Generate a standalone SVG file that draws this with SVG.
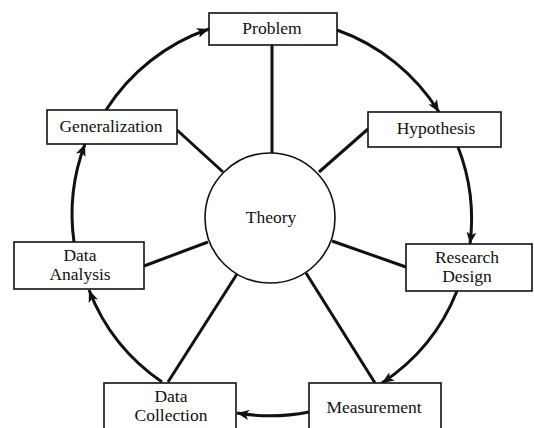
<svg xmlns="http://www.w3.org/2000/svg" width="534" height="428" viewBox="0 0 534 428">
<style>
.box{fill:#fff;stroke:#111;stroke-width:1.6}
.lbl{font-family:"Liberation Serif","Times New Roman",serif;font-size:17.5px;fill:#111;text-anchor:middle}
.spoke{stroke:#111;stroke-width:3;fill:none}
.arc{stroke:#111;stroke-width:3;fill:none;marker-end:url(#ah)}
</style>
<defs>
<marker id="ah" markerUnits="userSpaceOnUse" markerWidth="14" markerHeight="10" refX="12" refY="5" orient="auto">
<path d="M0,0 L12,5 L0,10 L3,5 Z" fill="#111"/>
</marker>
</defs>
<rect width="534" height="428" fill="#fff"/>
<g id="connectors">
<line class="spoke" x1="272" y1="45" x2="272" y2="153"/>
<line class="spoke" x1="368" y1="129" x2="319" y2="172"/>
<line class="spoke" x1="177" y1="130" x2="223" y2="172"/>
<line class="spoke" x1="144" y1="266" x2="208" y2="242"/>
<line class="spoke" x1="168" y1="382" x2="237" y2="274"/>
<line class="spoke" x1="406" y1="267" x2="332" y2="241"/>
<line class="spoke" x1="375" y1="383" x2="306" y2="273"/>
<path class="arc" d="M337,30 A198,198 0 0 1 439,112"/>
<path class="arc" d="M458,147 A198,198 0 0 1 470,244"/>
<path class="arc" d="M457,291 A198,198 0 0 1 382,383"/>
<path class="arc" d="M309,412 A198,198 0 0 1 237,413"/>
<path class="arc" d="M162,382 A198,198 0 0 1 89,290"/>
<path class="arc" d="M74,242 A198,198 0 0 1 85,144"/>
<path class="arc" d="M106,110 A198,198 0 0 1 209,29"/>
</g>
<g id="theory">
<circle cx="270" cy="218" r="65" fill="#fff" stroke="#111" stroke-width="1.6"/>
<text class="lbl" x="271" y="223">Theory</text>
</g>
<g id="problem">
<rect class="box" x="209" y="13" width="128" height="32"/>
<text class="lbl" x="272" y="34">Problem</text>
</g>
<g id="hypothesis">
<rect class="box" x="368" y="112" width="133" height="35"/>
<text class="lbl" x="436" y="134">Hypothesis</text>
</g>
<g id="research-design">
<rect class="box" x="406" y="244" width="126" height="47"/>
<text class="lbl" x="467" y="263">Research</text>
<text class="lbl" x="467" y="282">Design</text>
</g>
<g id="measurement">
<rect class="box" x="309" y="383" width="132" height="50"/>
<text class="lbl" x="374" y="413">Measurement</text>
</g>
<g id="data-collection">
<rect class="box" x="104" y="383" width="132" height="50"/>
<text class="lbl" x="171" y="402">Data</text>
<text class="lbl" x="171" y="421">Collection</text>
</g>
<g id="data-analysis">
<rect class="box" x="14" y="242" width="130" height="47"/>
<text class="lbl" x="80" y="261">Data</text>
<text class="lbl" x="80" y="280">Analysis</text>
</g>
<g id="generalization">
<rect class="box" x="47" y="110" width="130" height="34"/>
<text class="lbl" x="111" y="132">Generalization</text>
</g>
</svg>
